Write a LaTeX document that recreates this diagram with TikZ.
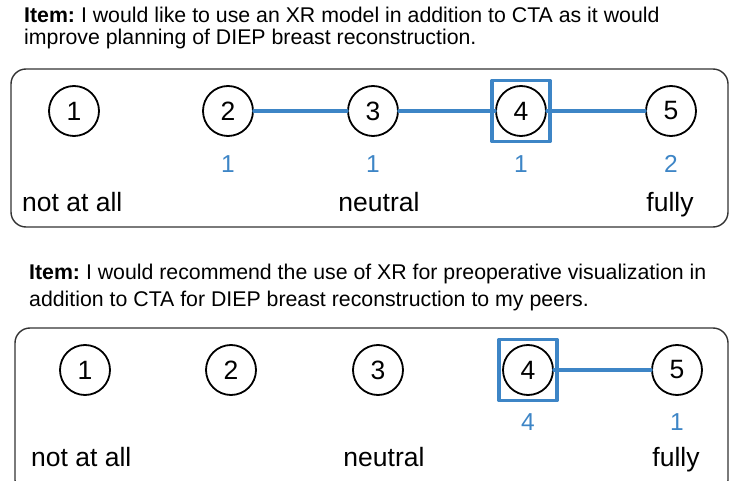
\documentclass[tikz,border=0pt]{standalone}
\usepackage{fontspec}
\setmainfont{Liberation Sans}
\usetikzlibrary{positioning}
\definecolor{voteblue}{HTML}{3D85C6}
\definecolor{framegray}{HTML}{333333}
\frenchspacing

\begin{document}
\begin{tikzpicture}[x=1pt, y=-1pt, line cap=round, line join=round,
  likert/.style={circle, draw=black, line width=1.8pt, minimum size=50pt,
    inner sep=0pt, font=\fontsize{26.5}{26.5}\selectfont},
  chosen/.style={rectangle, draw=voteblue, line width=3.5pt, inner sep=0pt,
    minimum width=58pt, minimum height=61pt},
  link/.style={voteblue, line width=3.2pt},
  tally/.style={text=voteblue, inner sep=0pt, font=\fontsize{24.5}{24.5}\selectfont},
  endlabel/.style={inner sep=0pt, font=\fontsize{26.5}{30}\selectfont},
  itemtext/.style={anchor=base west, inner sep=0pt, font=\fontsize{21.3}{22}\selectfont},
  panel/.style={draw=framegray, line width=1.4pt, rounded corners=15pt}]

% --- Page (px) ---
\useasboundingbox (0,0) rectangle (729,481);

% --- Parameters (px) ---
\def\rowA{111}   % circle row, item 1
\def\rowB{370}   % circle row, item 2

% ===== Item 1 =====
\node[itemtext] (t1a) at (24,23) {\textbf{Item:} I would like to use an XR model in addition to CTA as it would};
\node[itemtext] (t1b) at (24,45) {improve planning of DIEP breast reconstruction.};

\draw[panel] (11,69) rectangle (728,227);

\node[likert] (a1) at (74,\rowA)  {1};
\node[likert] (a2) at (228,\rowA) {2};
\node[likert] (a3) at (373,\rowA) {3};
\node[likert] (a4) at (521,\rowA) {4};
\node[likert] (a5) at (671,\rowA) {5};

% answers given
\draw[link] (a2) -- (a3) -- (a4) -- (a5);
\node[chosen] (a4box) at (a4) {};

\node[tally] (na2) at (228,164) {1};
\node[tally] (na3) at (373,164) {1};
\node[tally] (na4) at (521,164) {1};
\node[tally] (na5) at (671,164) {2};

\node[endlabel, anchor=base west] (lowA) at (22,212)  {not at all};
\node[endlabel, anchor=base]      (midA) at (379,212) {neutral};
\node[endlabel, anchor=base]      (topA) at (670,212) {fully};

% ===== Item 2 =====
\node[itemtext] (t2a) at (29,280) {\textbf{Item:} I would recommend the use of XR for preoperative visualization in};
\node[itemtext] (t2b) at (29,307) {addition to CTA for DIEP breast reconstruction to my peers.};

\draw[panel] (15,328) rectangle (728,495);

\node[likert] (b1) at (85,\rowB)  {1};
\node[likert] (b2) at (231,\rowB) {2};
\node[likert] (b3) at (378,\rowB) {3};
\node[likert] (b4) at (528,\rowB) {4};
\node[likert] (b5) at (677,\rowB) {5};

% answers given
\draw[link] (b4) -- (b5);
\node[chosen] (b4box) at (b4) {};

\node[tally] (nb4) at (528,422) {4};
\node[tally] (nb5) at (677,422) {1};

\node[endlabel, anchor=base west] (lowB) at (31,466)  {not at all};
\node[endlabel, anchor=base]      (midB) at (384,466) {neutral};
\node[endlabel, anchor=base]      (topB) at (676,466) {fully};

\end{tikzpicture}
\end{document}
